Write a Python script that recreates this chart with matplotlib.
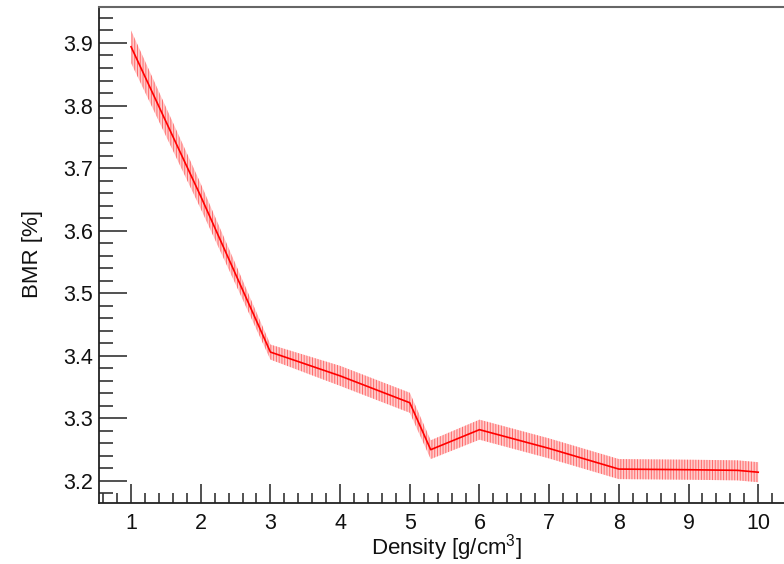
import matplotlib.pyplot as plt
from matplotlib.ticker import MultipleLocator

plt.rcParams['font.family'] = ['Liberation Sans', 'DejaVu Sans']
plt.rcParams['mathtext.fontset'] = 'custom'
plt.rcParams['mathtext.rm'] = 'Liberation Sans'
plt.rcParams['hatch.linewidth'] = 0.7

# Data
density = [1.0, 2.0, 3.0, 4.0, 5.0, 5.3, 6.0, 7.0, 8.0, 9.0, 9.7, 10.0]
bmr = [3.894, 3.655, 3.406, 3.368, 3.325, 3.250, 3.282, 3.252, 3.219, 3.218, 3.217, 3.214]
bmr_err = [0.026, 0.020, 0.012, 0.016, 0.016, 0.015, 0.016, 0.016, 0.016, 0.016, 0.016, 0.016]

x_ticks = [1, 2, 3, 4, 5, 6, 7, 8, 9, 10]
y_ticks = [3.2, 3.3, 3.4, 3.5, 3.6, 3.7, 3.8, 3.9]

fig = plt.figure(figsize=(7.84, 5.64), dpi=100)
ax = fig.add_axes([99 / 784, 1 - 503 / 564, 1 - 99 / 784, (503 - 7) / 564])

lo = [b - e for b, e in zip(bmr, bmr_err)]
hi = [b + e for b, e in zip(bmr, bmr_err)]
ax.fill_between(density, lo, hi, facecolor='#ffcccc', edgecolor='#ff6a6a',
                hatch='||||||', linewidth=0)
ax.plot(density, bmr, color='red', linewidth=1.2)

ax.set_xlim(0.54, 10.37)
ax.set_ylim(3.1648, 3.9575)
ax.set_xticks(x_ticks)
ax.set_yticks(y_ticks)
ax.set_yticklabels([f"{v:.1f}" for v in y_ticks])
ax.xaxis.set_minor_locator(MultipleLocator(0.2))
ax.yaxis.set_minor_locator(MultipleLocator(0.02))

ax.tick_params(axis='both', which='both', direction='in', labelsize=15.5,
               color='#333333', width=1.2, labelcolor='#111111')
ax.tick_params(axis='x', which='major', length=14, pad=7)
ax.tick_params(axis='x', which='minor', length=7)
ax.tick_params(axis='y', which='major', length=20, pad=4)
ax.tick_params(axis='y', which='minor', length=10)

for side in ['left', 'bottom']:
    ax.spines[side].set_linewidth(1.3)
    ax.spines[side].set_color('#222222')
ax.spines['top'].set_color('#666666')
ax.spines['top'].set_linewidth(1.5)
ax.spines['right'].set_visible(False)

ax.set_xlabel('Density [g/cm$^{3}$]', fontsize=16, color='#111111')
ax.xaxis.set_label_coords((446 - 99) / (784 - 99), -(532 - 503) / 496, transform=ax.transAxes)
ax.set_ylabel('BMR [%]', fontsize=16, color='#111111')
ax.yaxis.set_label_coords(-(99 - 43) / (784 - 99), (503 - 254) / 496, transform=ax.transAxes)

fig.savefig('out.png', dpi=100)
